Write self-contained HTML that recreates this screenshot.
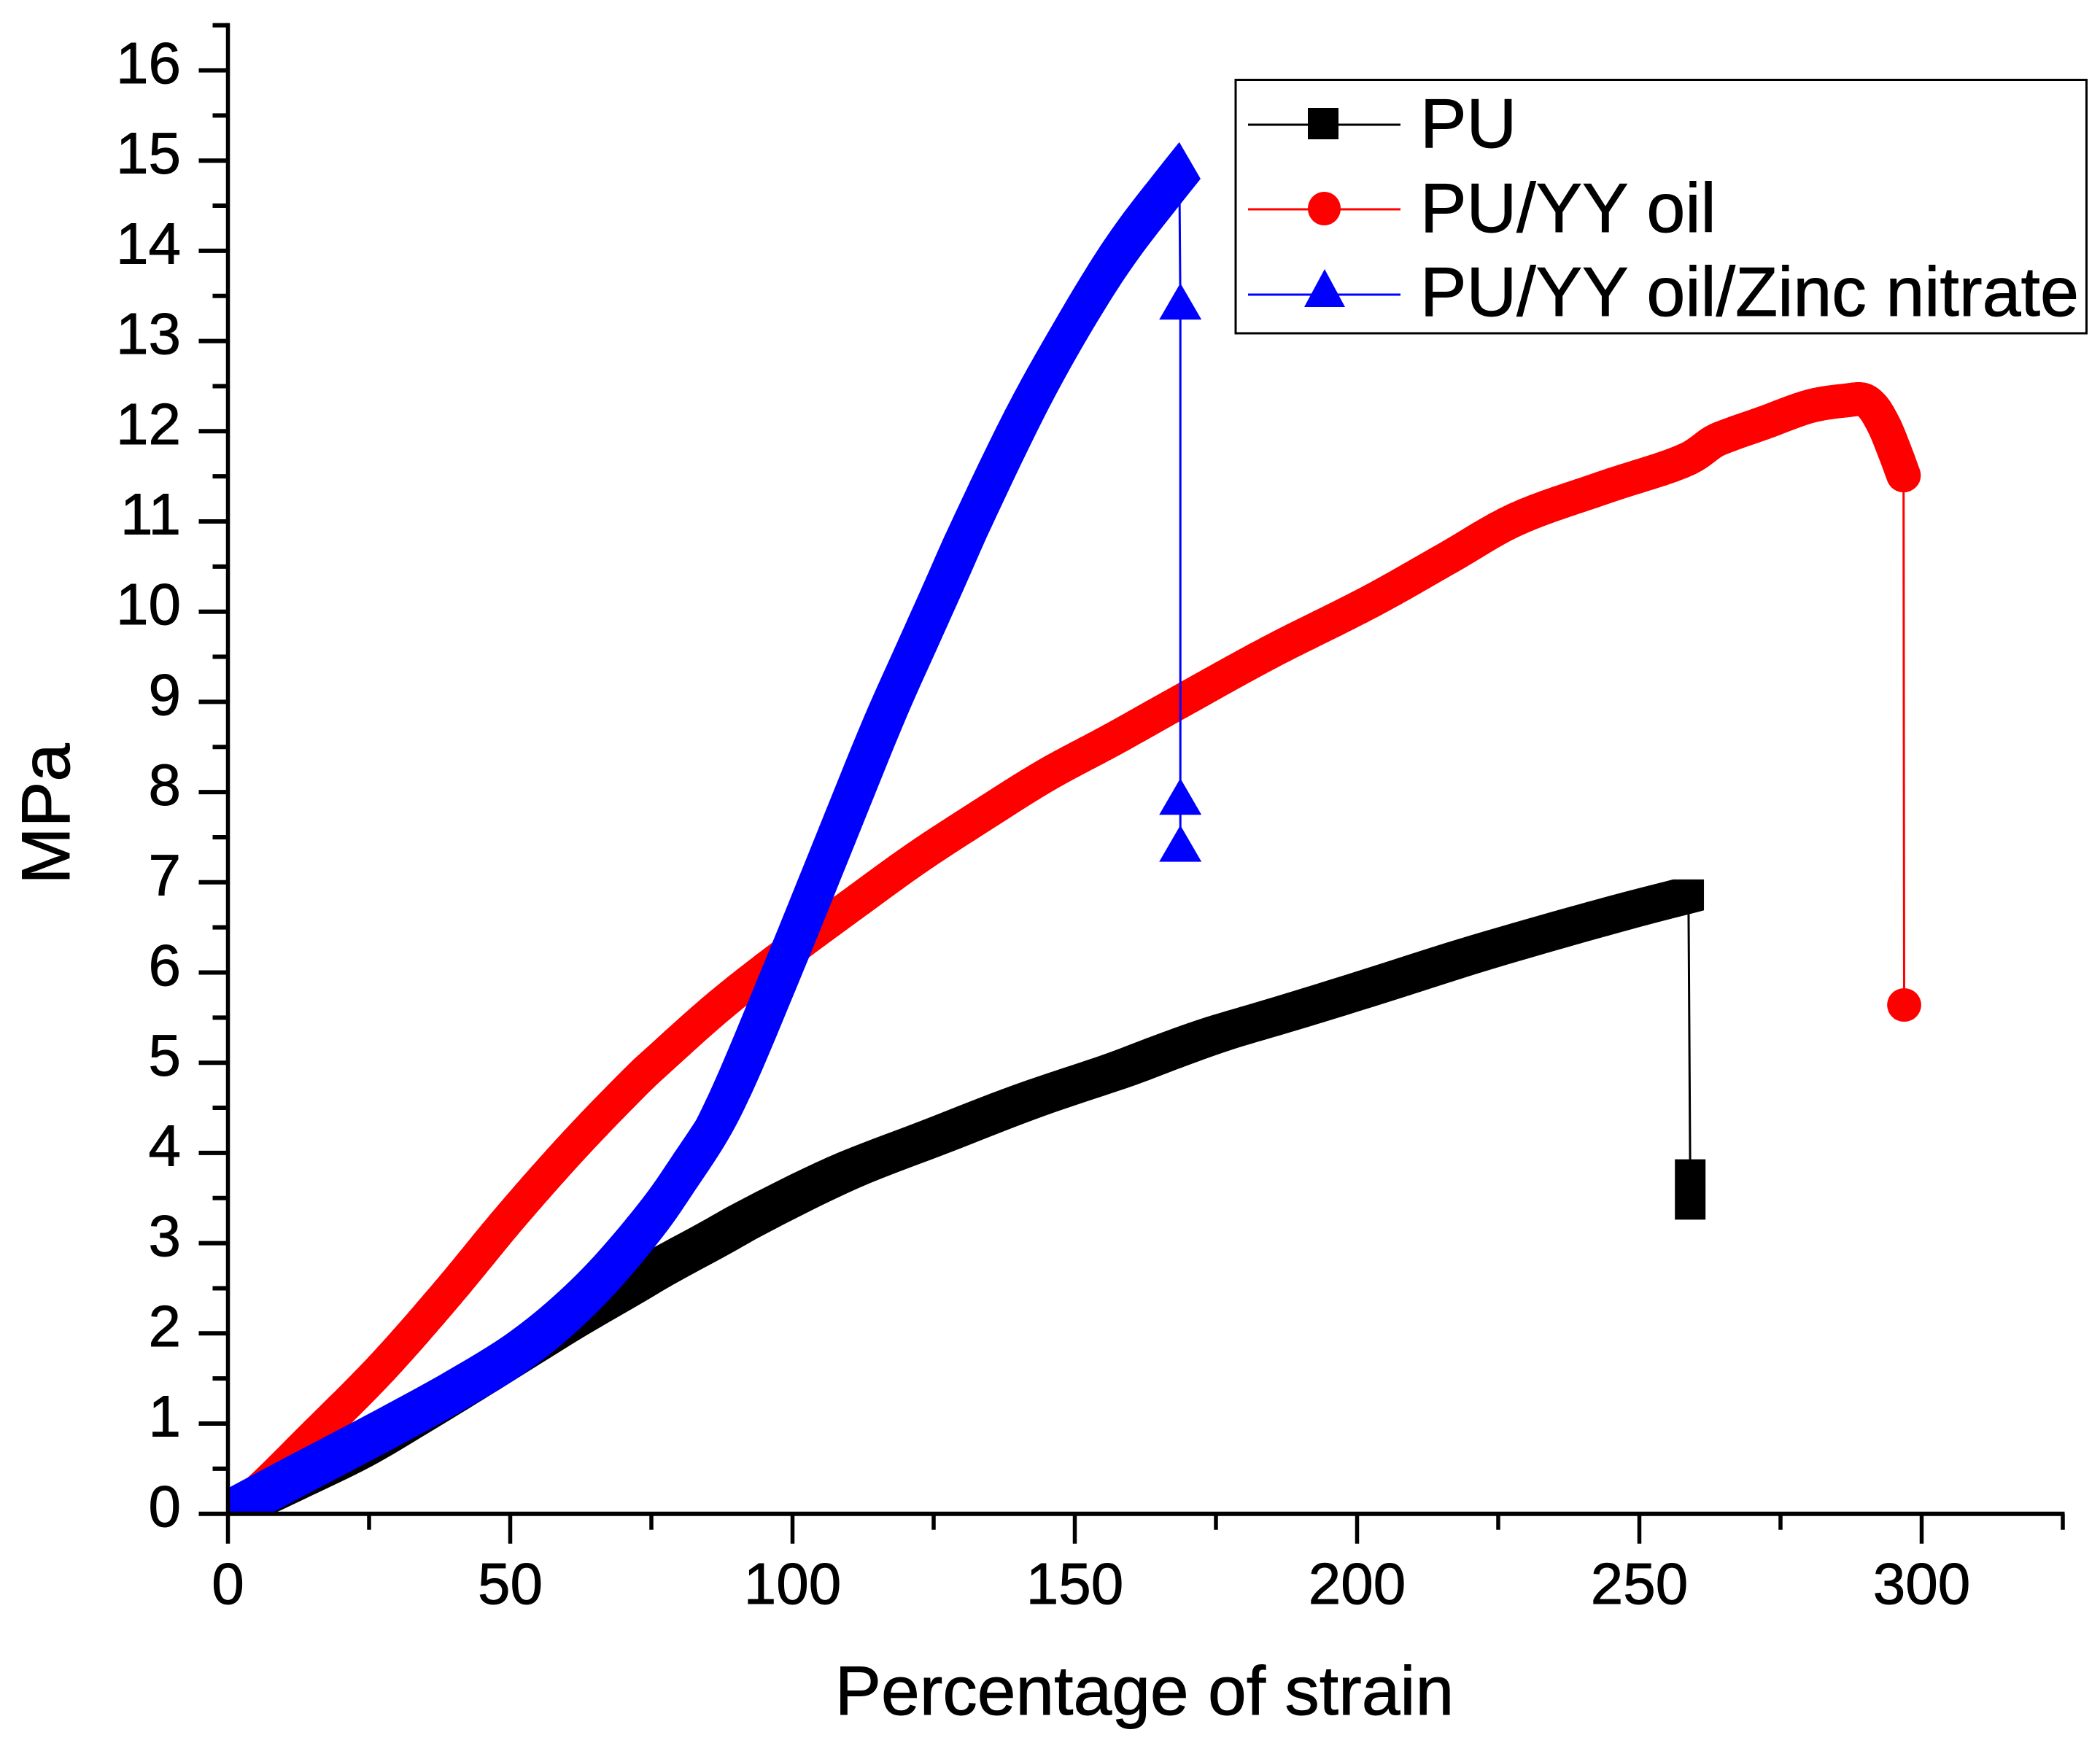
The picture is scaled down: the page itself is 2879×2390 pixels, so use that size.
<!DOCTYPE html>
<html lang="en">
<head>
<meta charset="utf-8">
<title>Stress-strain chart</title>
<style>
  html, body { margin: 0; padding: 0; background: #fff; }
  svg { display: block; }
  text { font-family: "Liberation Sans", Arial, sans-serif; fill: #000; stroke: #000; stroke-width: 0.9px; }
</style>
</head>
<body>
<svg id="chart" xmlns="http://www.w3.org/2000/svg" width="2879" height="2390" viewBox="0 0 2879 2390">
  <rect x="0" y="0" width="2879" height="2390" fill="#fff"/>
  <defs>
    <clipPath id="plot-clip"><rect x="312.5" y="0" width="2560" height="2075.7"/></clipPath>
  </defs>
  <g id="series-layer"></g>
  <g id="axes-layer"></g>

  <text x="1569" y="2351" font-size="94.8" text-anchor="middle">Percentage of strain</text>
  <text transform="translate(95 1116) rotate(-90)" font-size="94" text-anchor="middle">MPa</text>

  <g>
    <rect x="1694" y="109.5" width="1166.5" height="347.5" fill="#fff" stroke="#000" stroke-width="3"/>
    <g>
      <line x1="1711" y1="171" x2="1920" y2="171" stroke="#000" stroke-width="3"/>
      <rect x="1793" y="148" width="42" height="43" fill="#000"/>
      <text x="1947" y="202" font-size="95.2">PU</text>
    </g>
    <g>
      <line x1="1711" y1="287" x2="1920" y2="287" stroke="#f00" stroke-width="3"/>
      <ellipse cx="1815.5" cy="286" rx="22.5" ry="23" fill="#f00"/>
      <text x="1947" y="318" font-size="95.2">PU/YY oil</text>
    </g>
    <g>
      <line x1="1711" y1="404" x2="1920" y2="404" stroke="#00f" stroke-width="3"/>
      <polygon points="1816,369 1844,421 1788,421" fill="#00f"/>
      <text x="1947" y="433" font-size="95.2">PU/YY oil/Zinc nitrate</text>
    </g>
  </g>
</svg>

<script>
// ---- chart data ----
const xMajorTicks = [0, 50, 100, 150, 200, 250, 300];
const xMinorTicks = [25, 75, 125, 175, 225, 275, 325];
const yMajorTicks = [0, 1, 2, 3, 4, 5, 6, 7, 8, 9, 10, 11, 12, 13, 14, 15, 16];
const yMinorTicks = [0.5, 1.5, 2.5, 3.5, 4.5, 5.5, 6.5, 7.5, 8.5, 9.5, 10.5, 11.5, 12.5, 13.5, 14.5, 15.5, 16.5];

const puStrain = [0, 5.2, 12, 22.8, 32.6, 44.1, 53.3, 60.8, 70.7, 76.4, 86.1, 92.4, 108.9, 125.3, 141.8, 158.3, 166.3, 174.8, 184.4, 191.3, 202.6, 220.7, 238.9, 250, 258.7];
const puStress = [0.03, 0.17, 0.37, 0.7, 1.06, 1.5, 1.86, 2.15, 2.51, 2.72, 3.05, 3.27, 3.78, 4.18, 4.58, 4.93, 5.12, 5.31, 5.49, 5.62, 5.84, 6.2, 6.53, 6.72, 6.86];
const puDropStrain = [259, 259];
const puDropStress = [3.76, 3.43];

const oilStrain = [1, 4.15, 15.7, 27.2, 38.8, 50.3, 61.8, 73.3, 75.9, 87.4, 100.1, 110.5, 122, 133.5, 145, 156.6, 168.6, 184.4, 202.6, 216.2, 228, 243.4, 258.8, 263.3, 266, 271.9, 280.4, 286.5, 289.6, 291.2, 293.2, 295.2, 296.8];
const oilStress = [0.05, 0.186, 0.89, 1.615, 2.44, 3.31, 4.12, 4.86, 5.01, 5.65, 6.27, 6.75, 7.27, 7.74, 8.19, 8.58, 9.0, 9.545, 10.12, 10.6, 11.02, 11.37, 11.7, 11.89, 11.96, 12.09, 12.28, 12.34, 12.35, 12.28, 12.08, 11.78, 11.51];
const oilDropStrain = [296.9];
const oilDropStress = [5.64];

const zincStrain = [0, 9.9, 15.7, 27.2, 38.8, 50.3, 61.8, 73.3, 79.1, 84.9, 88.9, 97.9, 107.3, 116.4, 122.6, 126.9, 131.3, 142.8, 152.6, 158, 163.8, 168.5];
const zincStress = [0.08, 0.41, 0.6, 0.98, 1.38, 1.83, 2.45, 3.28, 3.8, 4.36, 4.85, 6.18, 7.63, 9.03, 9.9, 10.5, 11.12, 12.6, 13.66, 14.16, 14.63, 15.0];
const zincDropStrain = [168.7, 168.7, 168.7];
const zincDropStress = [13.44, 7.95, 7.43];

// ---- axis functions ----
function sx(v) { return 312.5 + v * 7.74; }
function sy(v) { return 2075.7 - v * 123.7; }

const SVGNS = 'http://www.w3.org/2000/svg';
const seriesLayer = document.getElementById('series-layer');
const axesLayer = document.getElementById('axes-layer');

function mk(tag, parent, attrs) {
  const el = document.createElementNS(SVGNS, tag);
  for (const k in attrs) el.setAttribute(k, attrs[k]);
  parent.appendChild(el);
  return el;
}

// marker outlines relative to the data point
function squareShape() { return [[-21, -21], [21, -21], [21, 21], [-21, 21]]; }
function triangleShape() { return [[0, -25], [29, 25], [-29, 25]]; }
function circleShape() {
  const pts = [];
  for (let i = 0; i < 32; i++) {
    const a = i / 32 * Math.PI * 2;
    pts.push([23.4 * Math.cos(a), 23 * Math.sin(a)]);
  }
  return pts;
}

function hull(pts) {
  const p = pts.slice().sort((a, b) => a[0] - b[0] || a[1] - b[1]);
  const cross = (o, a, b) => (a[0] - o[0]) * (b[1] - o[1]) - (a[1] - o[1]) * (b[0] - o[0]);
  const lo = [], up = [];
  for (const q of p) {
    while (lo.length > 1 && cross(lo[lo.length - 2], lo[lo.length - 1], q) <= 0) lo.pop();
    lo.push(q);
  }
  for (let i = p.length - 1; i >= 0; i--) {
    const q = p[i];
    while (up.length > 1 && cross(up[up.length - 2], up[up.length - 1], q) <= 0) up.pop();
    up.push(q);
  }
  lo.pop(); up.pop();
  return lo.concat(up);
}

function offsetShape(shape, x, y) { return shape.map(s => [s[0] + x, s[1] + y]); }
function pathOf(poly) {
  return 'M' + poly.map(q => q[0].toFixed(1) + ' ' + q[1].toFixed(1)).join('L') + 'Z';
}

// centripetal Catmull-Rom rendering of a screen-space polyline
function smoothCurve(pts) {
  const out = [pts[0]];
  const lerp = (a, b, ta, tb, t) => {
    if (tb === ta) return a;
    const w = (t - ta) / (tb - ta);
    return [a[0] + (b[0] - a[0]) * w, a[1] + (b[1] - a[1]) * w];
  };
  for (let i = 0; i < pts.length - 1; i++) {
    const p1 = pts[i], p2 = pts[i + 1];
    const p0 = i > 0 ? pts[i - 1] : [2 * p1[0] - p2[0], 2 * p1[1] - p2[1]];
    const p3 = i < pts.length - 2 ? pts[i + 2] : [2 * p2[0] - p1[0], 2 * p2[1] - p1[1]];
    const d = (a, b) => Math.pow(Math.hypot(a[0] - b[0], a[1] - b[1]), 0.5) || 1e-3;
    const t0 = 0, t1 = t0 + d(p0, p1), t2 = t1 + d(p1, p2), t3 = t2 + d(p2, p3);
    const steps = 8;
    for (let k = 1; k <= steps; k++) {
      const t = t1 + (t2 - t1) * k / steps;
      const a1 = lerp(p0, p1, t0, t1, t), a2 = lerp(p1, p2, t1, t2, t), a3 = lerp(p2, p3, t2, t3, t);
      const b1 = lerp(a1, a2, t0, t2, t), b2 = lerp(a2, a3, t1, t3, t);
      out.push(lerp(b1, b2, t1, t2, t));
    }
  }
  return out;
}

function drawSeries(key, color, lineW, xs, ys, dropXs, dropYs, shape) {
  const g = mk('g', seriesLayer, { 'clip-path': 'url(#plot-clip)' });
  
  

  // connecting thin line through every point
  const allX = xs.concat(dropXs), allY = ys.concat(dropYs);
  const line = mk('polyline', g, {
    points: allX.map((v, i) => sx(v).toFixed(1) + ',' + sy(allY[i]).toFixed(1)).join(' '),
    fill: 'none', stroke: color, 'stroke-width': lineW
  });
  
  

  // dense markers sweep out a thick band along the curve
  const curve = smoothCurve(xs.map((v, i) => [sx(v), sy(ys[i])]));
  let d = '';
  for (let i = 0; i < curve.length - 1; i++) {
    const a = offsetShape(shape, curve[i][0], curve[i][1]);
    const b = offsetShape(shape, curve[i + 1][0], curve[i + 1][1]);
    d += pathOf(hull(a.concat(b)));
  }
  const band = mk('path', g, { d: d, fill: color, 'fill-rule': 'nonzero', stroke: color, 'stroke-width': 0.5 });
  
  

  // separate markers after the failure drop
  dropXs.forEach(function (v, i) {
    const poly = hull(offsetShape(shape, sx(v), sy(dropYs[i])));
    const m = mk('path', g, { d: pathOf(poly), fill: color });
    
    
  });
}

drawSeries('pu', '#000', 3, puStrain, puStress, puDropStrain, puDropStress, squareShape());
drawSeries('pu-yy-oil', '#f00', 3, oilStrain, oilStress, oilDropStrain, oilDropStress, circleShape());
drawSeries('pu-yy-oil-zinc-nitrate', '#00f', 3, zincStrain, zincStress, zincDropStrain, zincDropStress, triangleShape());

// ---- axes ----
const xAxisLine = mk('line', axesLayer, { x1: sx(0) - 2.5, y1: sy(0), x2: sx(325) + 2.5, y2: sy(0), stroke: '#000', 'stroke-width': 6 });


const yAxisLine = mk('line', axesLayer, { x1: sx(0), y1: sy(16.5) - 3, x2: sx(0), y2: sy(0) + 3, stroke: '#000', 'stroke-width': 5.5 });



xMajorTicks.forEach(function (v) {
  const t = mk('line', axesLayer, { x1: sx(v), y1: sy(0), x2: sx(v), y2: sy(0) + 41, stroke: '#000', 'stroke-width': 5.5 });
  
  
  const l = mk('text', axesLayer, { x: sx(v), y: 2199, 'font-size': 80, 'text-anchor': 'middle' });
  l.textContent = String(v);
  
  
});
xMinorTicks.forEach(function (v) {
  const t = mk('line', axesLayer, { x1: sx(v), y1: sy(0), x2: sx(v), y2: sy(0) + 22, stroke: '#000', 'stroke-width': 5.5 });
  
  
});
yMajorTicks.forEach(function (v) {
  const t = mk('line', axesLayer, { x1: sx(0), y1: sy(v), x2: sx(0) - 40, y2: sy(v), stroke: '#000', 'stroke-width': 6 });
  
  
  const l = mk('text', axesLayer, { x: 248, y: sy(v) + 17.5, 'font-size': 80, 'text-anchor': 'end' });
  l.textContent = String(v);
  
  
});
yMinorTicks.forEach(function (v) {
  const t = mk('line', axesLayer, { x1: sx(0), y1: sy(v), x2: sx(0) - 21, y2: sy(v), stroke: '#000', 'stroke-width': 6 });
  
  
});
</script>
</body>
</html>
